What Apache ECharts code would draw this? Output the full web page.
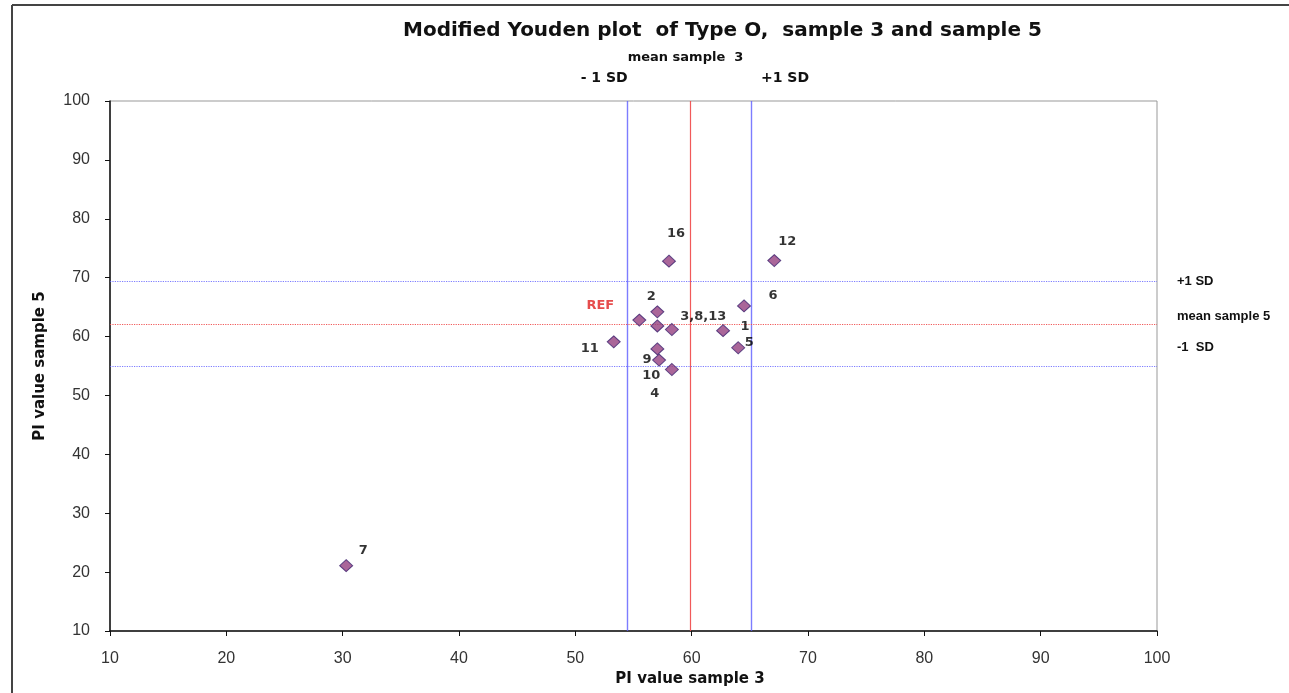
<!DOCTYPE html>
<html>
<head>
<meta charset="utf-8">
<script src="https://cdn.jsdelivr.net/npm/echarts@6/dist/echarts.min.js"></script>
<style>
  html, body { margin: 0; padding: 0; background: #fff; }
  #main { width: 1289px; height: 693px; }
</style>
</head>
<body>
<div id="main"></div>
<script>
// data
var pointNames = ['16', '12', '6', '2', 'REF', '3,8,13', '', '1', '5', '11', '10', '9', '4', '7'];
var sample3 = [58.05, 67.1, 64.5, 57.05, 55.5, 57.05, 58.3, 62.7, 64.0, 53.3, 57.05, 57.2, 58.3, 30.3];
var sample5 = [72.8, 72.9, 65.2, 64.2, 62.8, 61.8, 61.2, 61.0, 58.1, 59.1, 57.9, 56.0, 54.4, 21.1];

var mean3 = 59.9, minusSd3 = 54.5, plusSd3 = 65.1;
var mean5 = 62.1, minusSd5 = 55.0, plusSd5 = 69.4;

var axisTicks = [10, 20, 30, 40, 50, 60, 70, 80, 90, 100];

// label placement (pixels, relative to the marker)
var labelOffsets = {
  '16': [7, -28], '12': [13, -19], '6': [29, -10], '2': [-6, -15],
  'REF': [-39, -14], '3,8,13': [46, -9], '1': [22, -4], '5': [11, -5],
  '11': [-24, 7], '10': [-6, 27], '9': [-12, 0], '4': [-17, 24], '7': [17, -15]
};

var FONT = '"Liberation Sans", Arial, sans-serif';
var WIDE = '"DejaVu Sans", Verdana, sans-serif';
var blue = '#5c5cff', red = '#f04848';

var points = sample3.map(function (x, i) {
  var nm = pointNames[i];
  return {
    value: [x, sample5[i]],
    name: nm,
    label: {
      show: nm !== '',
      formatter: nm,
      position: 'inside',
      offset: labelOffsets[nm] || [0, 0],
      color: nm === 'REF' ? '#e02020' : '#000',
      textBorderWidth: 0,
      fontWeight: 'bold',
      fontSize: 13,
      fontFamily: WIDE
    }
  };
});

var chart = echarts.init(document.getElementById('main'));

var option = {
  animation: false,
  backgroundColor: '#fff',
  title: {
    text: 'Modified Youden plot  of Type O,  sample 3 and sample 5',
    left: 398,
    top: 16,
    textStyle: { fontFamily: WIDE, fontSize: 20, fontWeight: 'bold', color: '#111' }
  },
  grid: {
    left: 110, right: 132, top: 101, bottom: 62,
    show: true, borderColor: '#999', borderWidth: 1
  },
  xAxis: {
    type: 'value', min: 10, max: 100, interval: 10,
    name: 'PI value sample 3',
    nameLocation: 'middle', nameGap: 37,
    nameTextStyle: { fontFamily: WIDE, fontSize: 15, fontWeight: 'bold', color: '#111', padding: [0, 0, 0, 113] },
    axisLine: { lineStyle: { color: '#111', width: 1.5 } },
    axisTick: { show: true, length: 5, lineStyle: { color: '#111' } },
    axisLabel: { margin: 20, fontFamily: FONT, fontSize: 16, color: '#333',
      formatter: function (v) { return axisTicks.indexOf(v) >= 0 ? String(v) : ''; } },
    splitLine: { show: false }
  },
  yAxis: {
    type: 'value', min: 10, max: 100, interval: 10,
    name: 'PI value sample 5',
    nameLocation: 'middle', nameGap: 62, nameRotate: 90,
    nameTextStyle: { fontFamily: WIDE, fontSize: 15, fontWeight: 'bold', color: '#111' },
    axisLine: { lineStyle: { color: '#111', width: 1.5 } },
    axisTick: { show: true, length: 5, lineStyle: { color: '#111' } },
    axisLabel: { margin: 20, fontFamily: FONT, fontSize: 16, color: '#333' },
    splitLine: { show: false }
  },
  series: [{
    type: 'scatter',
    symbol: 'diamond',
    symbolSize: [13, 12],
    itemStyle: { color: '#95407f', borderColor: '#3f2470', borderWidth: 1 },
    data: points,
    z: 5,
    markLine: {
      silent: true,
      symbol: 'none',
      label: { show: false },
      data: [
        { xAxis: minusSd3, lineStyle: { color: blue, type: 'solid', width: 1.4, opacity: 0.8 } },
        { xAxis: mean3, lineStyle: { color: red, type: 'solid', width: 1.2, opacity: 0.9 } },
        { xAxis: plusSd3, lineStyle: { color: blue, type: 'solid', width: 1.4, opacity: 0.8 } },
        { yAxis: plusSd5, lineStyle: { color: blue, type: 'dotted', width: 1.2, opacity: 0.8 } },
        { yAxis: mean5, lineStyle: { color: red, type: 'dotted', width: 1.2, opacity: 0.9 } },
        { yAxis: minusSd5, lineStyle: { color: blue, type: 'dotted', width: 1.2, opacity: 0.8 } }
      ]
    }
  }]
};

chart.setOption(option);

// reference-line captions placed from the axis scales
function px(x, y) { return chart.convertToPixel({ gridIndex: 0 }, [x, y]); }
function txt(x, y, s, align, fam, size) {
  return {
    type: 'text', x: x, y: y,
    style: { text: s, fontFamily: fam || FONT, fontSize: size || 13, fontWeight: 'bold', fill: '#111',
      align: align || 'left', verticalAlign: 'middle' }
  };
}
var rightX = px(100, 0)[0] + 20;
chart.setOption({
  graphic: [
    { type: 'line', shape: { x1: 12, y1: 5, x2: 12, y2: 693 }, style: { stroke: '#444', lineWidth: 2 } },
    { type: 'line', shape: { x1: 12, y1: 5, x2: 1289, y2: 5 }, style: { stroke: '#444', lineWidth: 2 } },
    txt(px(mean3, 0)[0] - 5, 58, 'mean sample  3', 'center', WIDE),
    txt(px(minusSd3, 0)[0], 78, '- 1 SD', 'right', WIDE, 14),
    txt(px(plusSd3, 0)[0] + 10, 78, '+1 SD', 'left', WIDE, 14),
    txt(rightX, px(0, plusSd5)[1], '+1 SD'),
    txt(rightX, px(0, mean5)[1] - 8, 'mean sample 5'),
    txt(rightX, px(0, minusSd5)[1] - 19, '-1  SD')
  ]
});
</script>
</body>
</html>
